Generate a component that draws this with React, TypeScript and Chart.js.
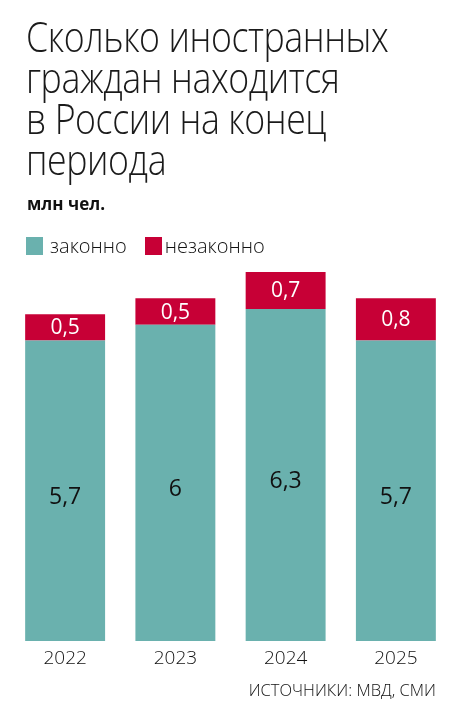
import React, { useEffect, useRef } from 'react';
import { Chart, registerables } from 'chart.js';

Chart.register(...registerables);

const years = ['2022', '2023', '2024', '2025'];
const legal = [5.7, 6, 6.3, 5.7];
const illegal = [0.5, 0.5, 0.7, 0.8];
const legalLabels = ['5,7', '6', '6,3', '5,7'];
const illegalLabels = ['0,5', '0,5', '0,7', '0,8'];

const TEAL = '#6ab1ae';
const RED = '#c70036';
const FONT = '"Open Sans", "Noto Sans", sans-serif';

const valueLabels = {
    id: 'valueLabels',
    afterDatasetsDraw(chart: Chart) {
        const ctx = chart.ctx;
        ctx.save();
        ctx.textAlign = 'center';
        ctx.textBaseline = 'middle';
        chart.getDatasetMeta(0).data.forEach((bar: any, i: number) => {
            ctx.fillStyle = '#111';
            ctx.font = `400 23px ${FONT}`;
            ctx.fillText(legalLabels[i], bar.x, (bar.y + bar.base) / 2 + 7);
        });
        chart.getDatasetMeta(1).data.forEach((bar: any, i: number) => {
            ctx.fillStyle = '#fff';
            ctx.font = `400 21px ${FONT}`;
            ctx.fillText(illegalLabels[i], bar.x, (bar.y + bar.base) / 2 + 1);
        });
        ctx.restore();
    }
};

const App = () => {
    const chartRef = useRef<HTMLCanvasElement>(null);
    const chartInstance = useRef<Chart | null>(null);

    useEffect(() => {
        document.body.style.margin = '0';
        if (chartRef.current) {
            const ctx = chartRef.current.getContext('2d');
            if (ctx) {
                if (chartInstance.current) {
                    chartInstance.current.destroy();
                }
                chartInstance.current = new Chart(ctx, {
                    type: 'bar',
                    data: {
                        labels: years,
                        datasets: [
                            { label: 'законно', data: legal, backgroundColor: TEAL, barPercentage: 0.725, categoryPercentage: 1 },
                            { label: 'незаконно', data: illegal, backgroundColor: RED, barPercentage: 0.725, categoryPercentage: 1 }
                        ]
                    },
                    options: {
                        animation: false,
                        responsive: false,
                        maintainAspectRatio: false,
                        layout: { padding: { left: 10, right: 8, top: 272, bottom: 46 } },
                        plugins: {
                            legend: { display: false },
                            tooltip: { enabled: false }
                        },
                        scales: {
                            x: {
                                stacked: true,
                                grid: { display: false, drawTicks: false },
                                border: { display: false },
                                afterFit: (scale: any) => { scale.height = 31; },
                                ticks: { color: '#111', padding: 6, font: { family: FONT, size: 19, weight: 300 } }
                            },
                            y: {
                                stacked: true,
                                display: false,
                                min: 0,
                                max: 7
                            }
                        }
                    },
                    plugins: [valueLabels]
                });
            }
        }
        return () => {
            if (chartInstance.current) {
                chartInstance.current.destroy();
                chartInstance.current = null;
            }
        };
    }, []);

    return (
        <div style={{ position: 'absolute', left: 0, top: 0, width: 459, height: 718, background: '#fff', fontFamily: FONT, color: '#111' }}>
            <canvas ref={chartRef} width={459} height={718} style={{ position: 'absolute', left: 0, top: 0 }}></canvas>
            <div style={{ position: 'absolute', left: 26, top: 15, fontSize: 43, fontWeight: 300, lineHeight: '41px', letterSpacing: -0.5, whiteSpace: 'nowrap', transform: 'scaleX(0.83)', transformOrigin: 'left top', color: '#1a1a1a' }}>
                Сколько иностранных<br />граждан находится<br />в России на конец<br />периода
            </div>
            <div style={{ position: 'absolute', left: 27, top: 192, fontSize: 17, fontWeight: 700 }}>млн чел.</div>
            <div style={{ position: 'absolute', left: 26, top: 232, fontSize: 20, fontWeight: 300, display: 'flex', alignItems: 'center' }}>
                <span style={{ width: 17, height: 18, background: TEAL, display: 'inline-block', marginRight: 7 }}></span>
                <span style={{ marginRight: 18 }}>законно</span>
                <span style={{ width: 17, height: 18, background: RED, display: 'inline-block', marginRight: 3 }}></span>
                <span>незаконно</span>
            </div>
            <div style={{ position: 'absolute', right: 23, top: 678, fontSize: 16.5, fontWeight: 300 }}>ИСТОЧНИКИ: МВД, СМИ</div>
        </div>
    );
};

export default App;
